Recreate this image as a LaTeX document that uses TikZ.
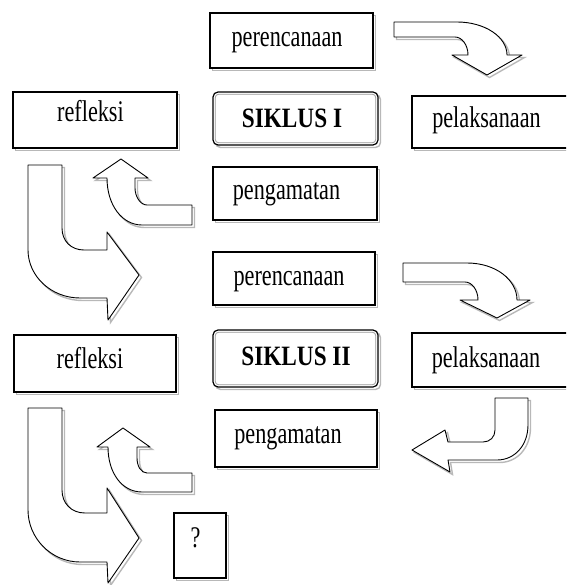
\documentclass[tikz,border=0pt]{standalone}
\usepackage{graphicx}
\usepackage{fontspec}
\setmainfont{Liberation Serif}
\usetikzlibrary{shadows}
\begin{document}
\begin{tikzpicture}[x=1pt,y=-1pt,
  shd/.style={general shadow={shadow xshift=2.5pt,shadow yshift=-2.5pt,draw=black!28,line width=1.4pt}},
  box/.style={draw=black,line width=1.2pt,fill=white,shd,inner sep=0pt,outer sep=0pt},
  rbox/.style={box,rounded corners=5pt},
  txt/.style={inner sep=0pt,anchor=base,font=\fontsize{30}{33}\selectfont},
  btxt/.style={txt,font=\fontsize{28}{31}\selectfont\bfseries},
  blk/.style={draw=black,line width=0.9pt,fill=white,line join=round,shd},
  inner/.style={draw=black!40,line width=0.8pt,rounded corners=3.5pt}
]
\useasboundingbox (0,0) rectangle (566,585);
\clip (0,0) rectangle (566,585);

% ---------- cycle I boxes ----------
\node[box,minimum width=163,minimum height=55] (per1) at (291.5,40.5) {};
\node[rbox,minimum width=165,minimum height=53] (sik1) at (295.5,118.5) {};
\draw[inner] ([shift={(2.2,2.2)}]sik1.north west) rectangle ([shift={(-2.2,-2.2)}]sik1.south east);
\node[box,minimum width=164,minimum height=53] (pen1) at (295,193.5) {};
\node[box,minimum width=164,minimum height=56] (ref1) at (95,120) {};
\node[box,minimum width=168,minimum height=52] (pel1) at (496,122) {};

\node[txt] (per1t) at (287,47) {\scalebox{0.74}[1]{perencanaan}};
\node[btxt] (sik1t) at (292,128) {\scalebox{0.83}[1]{SIKLUS I}};
\node[txt] (pen1t) at (286.5,200) {\scalebox{0.74}[1]{pengamatan}};
\node[txt] (ref1t) at (90.5,122) {\scalebox{0.74}[1]{refleksi}};
\node[txt] (pel1t) at (486.5,128) {\scalebox{0.74}[1]{pelaksanaan}};

% ---------- cycle II boxes ----------
\node[box,minimum width=162,minimum height=53] (per2) at (294,278.5) {};
\node[rbox,minimum width=165,minimum height=57] (sik2) at (295.5,358.5) {};
\draw[inner] ([shift={(2.2,2.2)}]sik2.north west) rectangle ([shift={(-2.2,-2.2)}]sik2.south east);
\node[box,minimum width=162,minimum height=57] (pen2) at (296,438.5) {};
\node[box,minimum width=162,minimum height=57] (ref2) at (95,363.5) {};
\node[box,minimum width=168,minimum height=54] (pel2) at (496,360) {};
\node[box,minimum width=52,minimum height=65] (q) at (200,545.5) {};

\node[txt] (per2t) at (289,285) {\scalebox{0.74}[1]{perencanaan}};
\node[btxt] (sik2t) at (296,365) {\scalebox{0.83}[1]{SIKLUS II}};
\node[txt] (pen2t) at (288,443) {\scalebox{0.74}[1]{pengamatan}};
\node[txt] (ref2t) at (90,368) {\scalebox{0.74}[1]{refleksi}};
\node[txt] (pel2t) at (486,367) {\scalebox{0.74}[1]{pelaksanaan}};
\node[txt] (qt) at (195.5,547) {\scalebox{0.74}[1]{?}};

% ---------- block arrows, cycle I ----------
% perencanaan -> pelaksanaan
\draw[blk] (394,22) -- (457,22) .. controls (485,22) and (507,37) .. (507,55)
  -- (522,55) -- (487,75) -- (452,55) -- (468,55)
  .. controls (468,45) and (462,37) .. (455,37) -- (394,37) -- cycle;
% pengamatan -> refleksi
\draw[blk] (192,205) -- (147,205) .. controls (140,205) and (135,196) .. (135,188)
  -- (135,178) -- (148,178) -- (121,159) -- (93,178) -- (107,178)
  .. controls (107,205) and (122,225) .. (142,225) -- (192,225) -- cycle;
% refleksi -> perencanaan II
\draw[blk] (28,165) -- (62,165) -- (62,228) .. controls (62,241) and (71,250) .. (84,250)
  -- (107,250) -- (107,232) -- (139,275) -- (108,320) -- (107,298) -- (80,298)
  .. controls (51,298) and (28,276) .. (28,250) -- cycle;

% ---------- block arrows, cycle II ----------
% perencanaan -> pelaksanaan
\draw[blk] (403,263) -- (467,263) .. controls (496,263) and (517,280) .. (517,300)
  -- (530,300) -- (497,318) -- (460,300) -- (478,300)
  .. controls (478,290) and (472,282) .. (465,282) -- (403,282) -- cycle;
% pelaksanaan -> pengamatan
\draw[blk] (495,398) -- (528,398) -- (528,425) .. controls (528,445) and (515,460) .. (497,460)
  -- (448,460) -- (450,472) -- (412,450) -- (445,430) -- (448,442) -- (483,442)
  .. controls (490,442) and (495,437) .. (495,430) -- cycle;
% pengamatan -> refleksi
\draw[blk] (192,473) -- (147,473) .. controls (141,473) and (137,466) .. (137,458)
  -- (137,447) -- (150,447) -- (123,428) -- (97,447) -- (108,447)
  .. controls (108,473) and (122,492) .. (142,492) -- (192,492) -- cycle;
% refleksi -> ?
\draw[blk] (28,408) -- (62,408) -- (62,490) .. controls (62,503) and (71,513) .. (85,513)
  -- (107,513) -- (107,488) -- (139,538) -- (108,583) -- (107,562) -- (80,562)
  .. controls (51,562) and (28,538) .. (28,510) -- cycle;
\end{tikzpicture}
\end{document}
